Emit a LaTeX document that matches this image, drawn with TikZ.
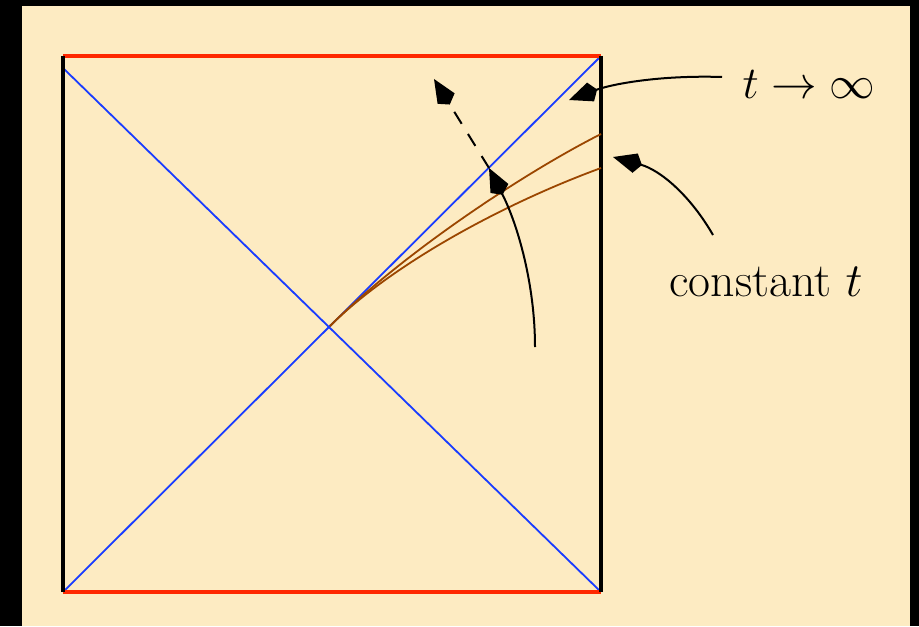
\RequirePackage{fix-cm}
\documentclass[tikz,border=0pt]{standalone}
\usetikzlibrary{arrows.meta}
\definecolor{cream}{RGB}{253,235,194}
\definecolor{hred}{RGB}{255,40,0}
\definecolor{hblue}{RGB}{25,60,255}
\definecolor{hbrown}{RGB}{155,70,0}
\tikzset{
  boundary/.style={line width=2pt,black},
  singular/.style={line width=2pt,hred},
  horizon/.style={line width=0.9pt,hblue},
  slice/.style={line width=0.9pt,hbrown},
  pointer/.style={line width=1pt,black,-{Kite[length=15pt,width=10pt,inset=3.5pt]}},
  lbl/.style={inner sep=0pt}
}
\begin{document}
\begin{tikzpicture}[x=0.5pt,y=-0.5pt]
\fill[black] (0,0) rectangle (919,626);
\fill[cream] (22,6) rectangle (910,626);
\useasboundingbox (0,0) rectangle (919,626);
\coordinate (TL) at (63,56);
\coordinate (TR) at (601,56);
\coordinate (BL) at (63,592);
\coordinate (BR) at (601,592);
\coordinate (L2) at (63,68);
\coordinate (C) at (330,326);
\coordinate (R1) at (601,134);
\coordinate (R2) at (601,168);
% horizons
\draw[horizon] (TR) -- (BL);
\draw[horizon] (L2) -- (BR);
% singularities and boundaries
\draw[singular] (TL) -- (TR);
\draw[singular] (BL) -- (BR);
\draw[boundary] (TL) -- (BL);
\draw[boundary] (TR) -- (BR);
% constant t slices
\draw[slice] (C) .. controls (400,256) and (520,175) .. (R1);
\draw[slice] (C) .. controls (390,266) and (500,205) .. (R2);
% labels
\node[lbl,font=\fontsize{22.8}{27}\selectfont] (tinf) at (809,84) {$t\to\infty$};
\node[lbl,font=\fontsize{23.9}{28}\selectfont] (const) at (766,282) {constant $t$};
% pointers
\coordinate (s1) at (722,77);
\coordinate (e1) at (569,100);
\draw[pointer] (s1) .. controls (660,75) and (612,84) .. (e1);
\coordinate (s2) at (713,235);
\coordinate (e2) at (613,157);
\draw[pointer] (s2) .. controls (690,195) and (660,170) .. (e2);
\coordinate (s3) at (535,347);
\coordinate (e3) at (489,168);
\draw[pointer] (s3) .. controls (535,285) and (518,225) .. (e3);
\coordinate (e4) at (434,79);
\draw[pointer,dash pattern=on 7pt off 6pt] (e3) -- (e4);
\end{tikzpicture}
\end{document}
